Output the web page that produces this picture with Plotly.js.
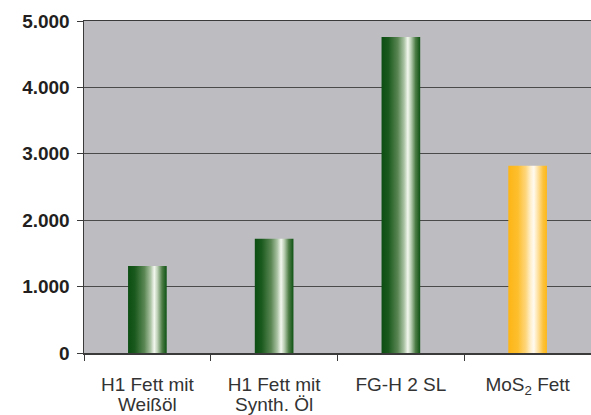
<!DOCTYPE html>
<html>
<head>
<meta charset="utf-8">
<script src="https://cdn.plot.ly/plotly-3.0.1.min.js"></script>
<style>html,body{margin:0;padding:0;background:#fff;}#chart{width:591px;height:415px;}</style>
</head>
<body>
<div id="chart"></div>
<script>
// Data
const categories = ["H1 Fett mit<br>Weißöl", "H1 Fett mit<br>Synth. Öl", "FG-H 2 SL", "MoS<sub>2</sub> Fett"];
const values = [1310, 1720, 4760, 2820];
const barColors = ["#2f6a2c", "#2f6a2c", "#2f6a2c", "#fdc13a"];
const gradientIds = ["gGreen", "gGreen", "gGreen", "gGold"];
const yTicks = [0, 1000, 2000, 3000, 4000, 5000];

const trace = {
  type: "bar",
  x: categories,
  y: values,
  width: 0.305,
  marker: { color: barColors, line: { width: 0 } },
  hoverinfo: "none"
};

const layout = {
  width: 591,
  height: 415,
  margin: { l: 84, r: 0, t: 21, b: 62 },
  paper_bgcolor: "#ffffff",
  plot_bgcolor: "#bdbdc1",
  separators: ",.",
  showlegend: false,
  font: { family: "Liberation Sans, Arial, sans-serif", color: "#231f20" },
  xaxis: {
    type: "category",
    tickson: "boundaries",
    ticks: "outside",
    ticklen: 6,
    tickcolor: "#3a3a3a",
    tickwidth: 1,
    showline: true,
    linecolor: "#3a3a3a",
    linewidth: 1.5,
    mirror: true,
    showgrid: false,
    ticklabelstandoff: 14,
    tickfont: { size: 19, color: "#333333", family: "Liberation Sans, Arial, sans-serif" },
    fixedrange: true
  },
  yaxis: {
    range: [0, 5000],
    tickvals: yTicks,
    tickformat: ",d",
    ticks: "outside",
    ticklen: 6,
    tickcolor: "#3a3a3a",
    showline: true,
    linecolor: "#3a3a3a",
    linewidth: 1.5,
    showgrid: true,
    gridcolor: "#4a4a4a",
    gridwidth: 1,
    zeroline: false,
    ticklabelstandoff: 3,
    tickfont: { size: 19, color: "#231f20", family: "Liberation Sans, Arial, sans-serif", weight: "bold" },
    fixedrange: true
  },
  hovermode: false
};

Plotly.newPlot("chart", [trace], layout, { displayModeBar: false, staticPlot: true }).then(function (gd) {
  const NS = "http://www.w3.org/2000/svg";
  const defs = gd.querySelector("svg.main-svg defs");
  function addGrad(id, stops) {
    const g = document.createElementNS(NS, "linearGradient");
    g.setAttribute("id", id);
    g.setAttribute("x1", "0"); g.setAttribute("y1", "0");
    g.setAttribute("x2", "1"); g.setAttribute("y2", "0");
    stops.forEach(function (s) {
      const st = document.createElementNS(NS, "stop");
      st.setAttribute("offset", s[0]);
      st.setAttribute("stop-color", s[1]);
      g.appendChild(st);
    });
    defs.appendChild(g);
  }
  addGrad("gGreen", [
    [0, "#0b4d12"], [0.18, "#1b5a1f"], [0.42, "#5a8653"], [0.58, "#a9c2a2"],
    [0.68, "#f3f7ef"], [0.76, "#bcd0b5"], [0.88, "#4d7d46"], [1, "#0e5214"]
  ]);
  addGrad("gGold", [
    [0, "#fdb515"], [0.25, "#fdbf2e"], [0.45, "#fed67a"], [0.58, "#fff0cf"],
    [0.66, "#fffaf0"], [0.76, "#fee3a5"], [0.9, "#fdc23b"], [1, "#fdb81a"]
  ]);
  const paths = gd.querySelectorAll(".barlayer .point path");
  paths.forEach(function (p, i) {
    p.style.fill = "url(#" + gradientIds[i] + ")";
  });
  // tighten line spacing of two-line category labels
  gd.querySelectorAll(".xtick text tspan.line").forEach(function (t) {
    const dy = t.getAttribute("dy");
    if (dy && parseFloat(dy) > 0) t.setAttribute("dy", "1.05em");
  });
});
</script>
</body>
</html>
